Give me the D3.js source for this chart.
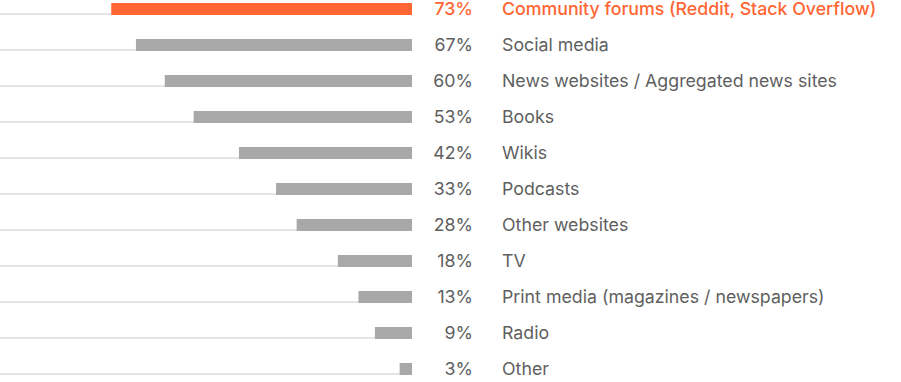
<!DOCTYPE html>
<style>
body { margin: 0; background: #fff; }
text { font-family: Inter, "Liberation Sans", Arial, sans-serif; }
</style>
<svg id="chart" width="901" height="382"></svg>
<script src="https://d3js.org/d3.v7.min.js"></script>
<script>

var categories = ["Community forums (Reddit, Stack Overflow)", "Social media", "News websites / Aggregated news sites",
  "Books", "Wikis", "Podcasts", "Other websites", "TV", "Print media (magazines / newspapers)", "Radio", "Other"];
var values = [73, 67, 60, 53, 42, 33, 28, 18, 13, 9, 3];

var svg = d3.select("#chart");
var barRight = 412;
var rowStep = 36, barH = 12, firstY = 3;

// bars grow leftwards from barRight
var x = d3.scaleLinear().domain([0, 100]).range([barRight, 0]);
var y = d3.scaleBand().domain(categories).range([firstY, firstY + rowStep * categories.length]);

var rows = svg.selectAll("g.row")
  .data(categories.map(function(c, i) { return {name: c, value: values[i], i: i}; }))
  .enter().append("g")
    .attr("class", "row")
    .attr("transform", function(d) { return "translate(0," + y(d.name) + ")"; });

// light track line under each bar
rows.append("line")
  .attr("x1", 0)
  .attr("x2", barRight)
  .attr("y1", barH - 1)
  .attr("y2", barH - 1)
  .attr("stroke", "#dcdcdc")
  .attr("stroke-width", 1.5);

rows.append("rect")
  .attr("x", function(d) { return x(d.value); })
  .attr("y", 0)
  .attr("width", function(d) { return barRight - x(d.value); })
  .attr("height", barH)
  .attr("fill", function(d) { return d.i === 0 ? "#ff6633" : "#a8a8a8"; });

function color(d) { return d.i === 0 ? "#ff6633" : "#5f5f5f"; }

rows.append("text")
  .attr("x", 473)
  .attr("y", barH / 2)
  .attr("dy", "0.36em")
  .attr("text-anchor", "end")
  .attr("font-size", 17.75)
  .attr("font-weight", function(d) { return d.i === 0 ? 500 : 400; })
  .attr("fill", color)
  .text(function(d) { return d.value + "%"; });

rows.append("text")
  .attr("x", 502)
  .attr("y", barH / 2)
  .attr("dy", "0.36em")
  .attr("font-size", 17.75)
  .attr("font-weight", function(d) { return d.i === 0 ? 500 : 400; })
  .attr("fill", color)
  .text(function(d) { return d.name; });

</script>
